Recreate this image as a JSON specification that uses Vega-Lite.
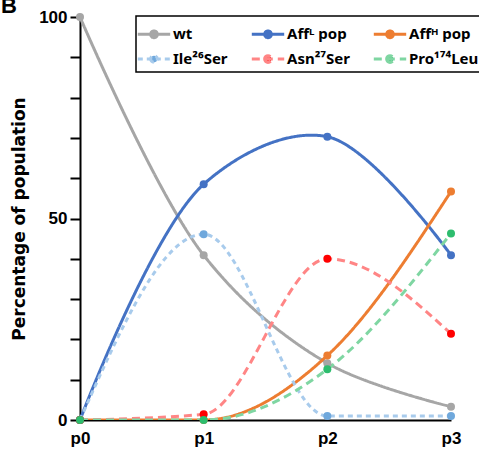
{
  "$schema": "https://vega.github.io/schema/vega-lite/v6.json",
  "width": 371,
  "height": 403,
  "autosize": "none",
  "padding": {"left": 80, "top": 17, "right": 28, "bottom": 32},
  "background": "white",
  "title": {"text": "B", "anchor": "start", "frame": "group", "dx": -79, "offset": -27, "fontSize": 22, "fontWeight": "bold", "font": "Liberation Sans", "baseline": "alphabetic", "color": "black"},
  "config": {"view": {"stroke": null}, "font": "Liberation Sans"},
  "data": {"values": [
    {"t": "p0", "s": "wt", "v": 100}, {"t": "p1", "s": "wt", "v": 40.9}, {"t": "p2", "s": "wt", "v": 14.1}, {"t": "p3", "s": "wt", "v": 3.3},
    {"t": "p0", "s": "Affᴸ pop", "v": 0}, {"t": "p1", "s": "Affᴸ pop", "v": 58.5}, {"t": "p2", "s": "Affᴸ pop", "v": 70.3}, {"t": "p3", "s": "Affᴸ pop", "v": 40.9},
    {"t": "p0", "s": "Affᴴ pop", "v": 0}, {"t": "p1", "s": "Affᴴ pop", "v": 0}, {"t": "p2", "s": "Affᴴ pop", "v": 16.0}, {"t": "p3", "s": "Affᴴ pop", "v": 56.7},
    {"t": "p0", "s": "Ile²⁶Ser", "v": 0}, {"t": "p1", "s": "Ile²⁶Ser", "v": 46.1}, {"t": "p2", "s": "Ile²⁶Ser", "v": 1.0}, {"t": "p3", "s": "Ile²⁶Ser", "v": 1.0},
    {"t": "p0", "s": "Asn²⁷Ser", "v": 0}, {"t": "p1", "s": "Asn²⁷Ser", "v": 1.4}, {"t": "p2", "s": "Asn²⁷Ser", "v": 40.0}, {"t": "p3", "s": "Asn²⁷Ser", "v": 21.4},
    {"t": "p0", "s": "Pro¹⁷⁴Leu", "v": 0}, {"t": "p1", "s": "Pro¹⁷⁴Leu", "v": 0}, {"t": "p2", "s": "Pro¹⁷⁴Leu", "v": 12.6}, {"t": "p3", "s": "Pro¹⁷⁴Leu", "v": 46.3}
  ]},
  "encoding": {
    "x": {"field": "t", "type": "ordinal", "scale": {"type": "point", "padding": 0},
      "axis": {"title": null, "labelAngle": 0, "ticks": false, "labelPadding": 10, "labelFontSize": 17, "labelFontWeight": "bold", "labelColor": "black", "domainColor": "black", "domainWidth": 2, "grid": false, "labelFont": "Liberation Sans"}},
    "y": {"field": "v", "type": "quantitative", "scale": {"domain": [0, 100], "nice": false},
      "axis": {"title": "Percentage of population", "values": [0, 10, 20, 30, 40, 50, 60, 70, 80, 90, 100], "labelExpr": "datum.value % 50 === 0 ? datum.label : ''", "tickSize": 10, "tickWidth": 2, "tickColor": "black", "domainColor": "black", "domainWidth": 2, "grid": false, "labelFontSize": 17, "labelFontWeight": "bold", "labelColor": "black", "labelPadding": 3, "titleFontSize": 17, "titleFontWeight": "bold", "titleColor": "black", "titlePadding": 10, "labelFont": "Liberation Sans", "titleFont": "DejaVu Sans"}}
  },
  "layer": [
    {
      "transform": [{"filter": {"field": "s", "oneOf": ["wt", "Affᴸ pop"]}}],
      "mark": {"type": "line", "interpolate": "catmull-rom", "clip": true},
      "encoding": {
        "color": {"field": "s", "type": "nominal", "title": null,
          "scale": {"domain": ["wt", "Affᴸ pop", "Affᴴ pop", "Ile²⁶Ser", "Asn²⁷Ser", "Pro¹⁷⁴Leu"], "range": ["#a6a6a6", "#4472c4", "#ed7d31", "#a8cbec", "#ff8585", "#7fd6a2"]},
          "legend": {"orient": "none", "legendX": 56, "legendY": -1, "columns": 3, "direction": "horizontal", "strokeColor": "black", "padding": 3, "columnPadding": 17, "rowPadding": 0, "labelFontSize": 15, "labelFontWeight": "bold", "labelColor": "black", "labelFont": "Noto Sans", "labelOffset": 4, "symbolSize": 729, "symbolStrokeWidth": 2.5, "fillColor": "white",
            "symbolType": "M-1.2,0L1.2,0M-0.25,0A0.25,0.25 0 1,0 0.25,0A0.25,0.25 0 1,0 -0.25,0Z",
            "encode": {"legend": {"update": {"strokeWidth": {"value": 1.5}}}, "symbols": {"update": {"fill": {"scale": "fill", "field": "value"}}}}}},
        "strokeDash": {"field": "s", "type": "nominal", "title": null,
          "scale": {"domain": ["wt", "Affᴸ pop", "Affᴴ pop", "Ile²⁶Ser", "Asn²⁷Ser", "Pro¹⁷⁴Leu"], "range": [[1, 0], [1, 0], [1, 0], [5, 4], [8, 5], [8, 5]]}},
        "strokeWidth": {"field": "s", "type": "nominal", "legend": null,
          "scale": {"domain": ["wt", "Affᴸ pop", "Affᴴ pop", "Ile²⁶Ser", "Asn²⁷Ser", "Pro¹⁷⁴Leu"], "range": [3, 3, 3, 2, 2.5, 2.5]}}
      }
    },
    {
      "transform": [{"filter": {"field": "s", "oneOf": ["Affᴴ pop", "Ile²⁶Ser", "Asn²⁷Ser", "Pro¹⁷⁴Leu"]}}],
      "mark": {"type": "line", "interpolate": "monotone", "clip": true},
      "encoding": {
        "color": {"field": "s", "type": "nominal", "title": null},
        "strokeDash": {"field": "s", "type": "nominal", "title": null},
        "strokeWidth": {"field": "s", "type": "nominal", "legend": null}
      }
    },
    {
      "mark": {"type": "point", "filled": true, "size": 64, "opacity": 1},
      "encoding": {
        "fill": {"field": "s", "type": "nominal", "legend": null,
          "scale": {"domain": ["wt", "Affᴸ pop", "Affᴴ pop", "Ile²⁶Ser", "Asn²⁷Ser", "Pro¹⁷⁴Leu"], "range": ["#a6a6a6", "#4472c4", "#ed7d31", "#6fa8dc", "#ff0000", "#2dbd6e"]}}
      }
    }
  ]
}
